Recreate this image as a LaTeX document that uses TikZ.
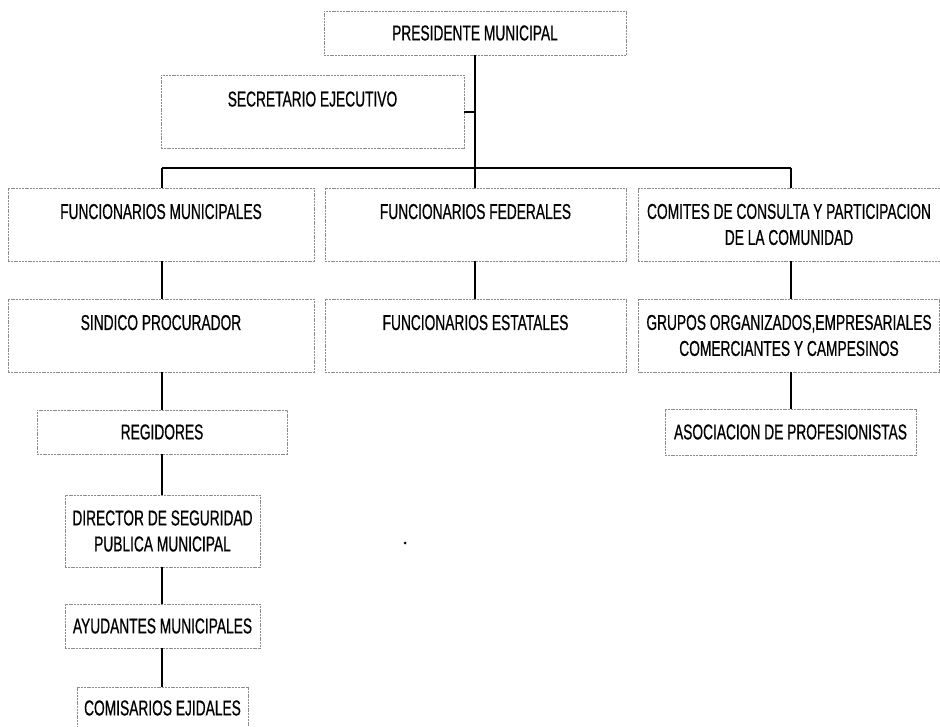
\documentclass[tikz,border=0pt]{standalone}
\usepackage{fontspec}
\setmainfont[FakeStretch=0.64,FakeBold=0.6]{Liberation Sans}
\usepackage{tikz}

\tikzset{
  box/.style={rectangle,draw=black!45,line width=0.6pt,dash pattern=on 2pt off 0.8pt,
    inner sep=0pt,align=center,font=\fontsize{21.5}{26}\selectfont},
  topbox/.style={box,text height=31pt,text depth=42pt},
  link/.style={line width=1.3pt}
}

\begin{document}
\begin{tikzpicture}[x=1pt,y=-1pt]
\useasboundingbox (0,0) rectangle (940,727);
\begin{scope}
\node[box,minimum width=302pt,minimum height=44pt] (pres) at (475,33) {PRESIDENTE MUNICIPAL};
\node[topbox,minimum width=303pt] (secr) at (312.5,112) {SECRETARIO EJECUTIVO};
\node[topbox,minimum width=306pt] (fmun) at (161,224.5) {FUNCIONARIOS MUNICIPALES};
\node[topbox,minimum width=301pt] (ffed) at (475.5,224.5) {FUNCIONARIOS FEDERALES};
\node[box,minimum width=302pt,minimum height=73pt] (comi) at (789,224.5) {COMITES DE CONSULTA Y PARTICIPACION\\DE LA COMUNIDAD};
\node[topbox,minimum width=306pt] (sind) at (161,335.5) {SINDICO PROCURADOR};
\node[topbox,minimum width=301pt] (fest) at (475.5,335.5) {FUNCIONARIOS ESTATALES};
\node[box,minimum width=301pt,minimum height=73pt] (grup) at (789,335.5) {GRUPOS ORGANIZADOS,EMPRESARIALES\\COMERCIANTES Y CAMPESINOS};
\node[box,minimum width=250pt,minimum height=44pt] (regi) at (162,432) {REGIDORES};
\node[box,minimum width=251pt,minimum height=46pt] (asoc) at (790.5,432) {ASOCIACION DE PROFESIONISTAS};
\node[box,minimum width=195pt,minimum height=72pt] (dire) at (162.5,531) {DIRECTOR DE SEGURIDAD\\PUBLICA MUNICIPAL};
\node[box,minimum width=195pt,minimum height=44pt] (ayud) at (162.5,626) {AYUDANTES MUNICIPALES};
\node[box,minimum width=171pt,minimum height=42pt] (comis) at (162.5,708) {COMISARIOS EJIDALES};
\coordinate (bus) at (475,168);
\coordinate (bl) at (162,168);
\coordinate (br) at (791,168);
% main trunk and bus
\draw[link] (pres.south) -- (bus);
\draw[link] (secr.east) -- (secr.east -| bus);
\draw[link] (bl) -- (br);
\draw[link] (bl) -- (bl |- fmun.north);
\draw[link] (bus) -- (bus |- ffed.north);
\draw[link] (br) -- (br |- comi.north);
% columns
\draw[link] (fmun.south -| bl) -- (sind.north -| bl);
\draw[link] (sind.south -| bl) -- (regi.north -| bl);
\draw[link] (regi.south -| bl) -- (dire.north -| bl);
\draw[link] (dire.south -| bl) -- (ayud.north -| bl);
\draw[link] (ayud.south -| bl) -- (comis.north -| bl);
\draw[link] (ffed.south -| bus) -- (fest.north -| bus);
\draw[link] (comi.south -| br) -- (grup.north -| br);
\draw[link] (grup.south -| br) -- (asoc.north -| br);
\fill (405,543) circle (1.5pt);
\end{scope}
\end{tikzpicture}
\end{document}
